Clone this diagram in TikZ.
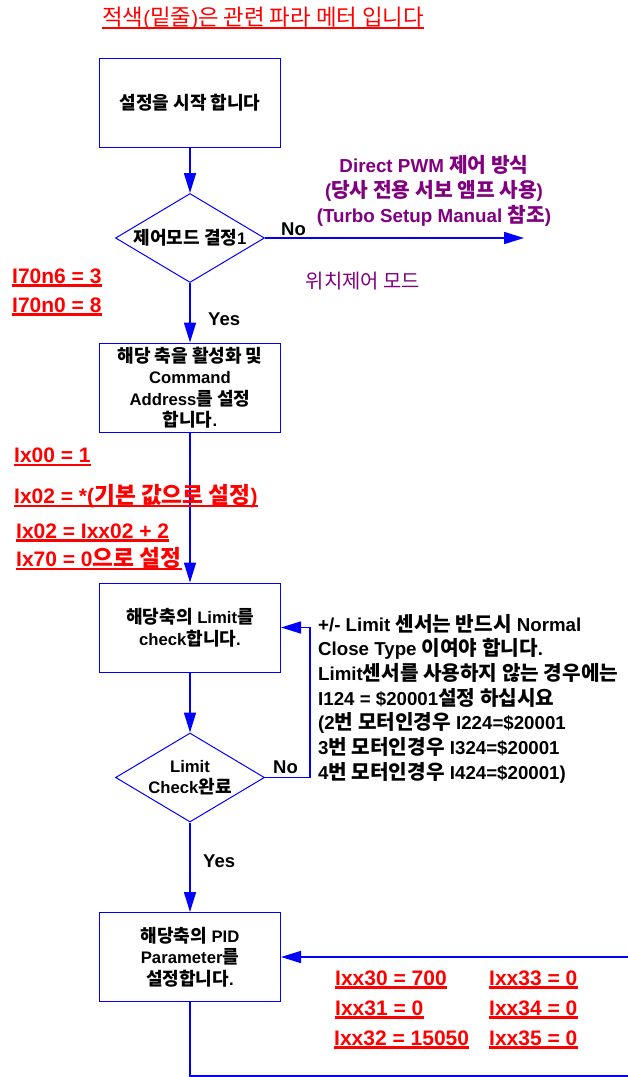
\documentclass[tikz,border=0pt]{standalone}
\usepackage{fontspec}
\setmainfont{Liberation Sans}
\newfontfamily\krfont{Noto Sans CJK KR}[Scale=1.08]
\newcommand\hg[1]{{\krfont #1}}
\usetikzlibrary{arrows.meta,shapes.geometric}

\definecolor{myblue}{RGB}{0,0,255}
\definecolor{myred}{RGB}{255,0,0}
\definecolor{mypurple}{RGB}{128,0,128}

\newcommand\boxfont{\fontsize{16.7}{21.5}\selectfont\bfseries}
\newcommand\ynfont{\fontsize{18.5}{22}\selectfont\bfseries}
\newcommand\lblfont{\fontsize{21}{25}\selectfont\bfseries}
\newcommand\notefont{\fontsize{18.7}{24.7}\selectfont\bfseries}
\newcommand\purpfont{\fontsize{18.8}{25}\selectfont\bfseries}
\newcommand\purpregfont{\fontsize{18.4}{24}\selectfont}
\newcommand\titlefont{\fontsize{20.7}{25}\selectfont}

\tikzset{
  box/.style={draw=myblue, line width=1pt, minimum width=181pt, minimum height=89pt,
    inner sep=2pt, align=center, font=\boxfont},
  dec/.style={draw=myblue, line width=1pt, shape=diamond, minimum width=149pt,
    minimum height=89pt, inner sep=0pt},
  dtext/.style={align=center, font=\boxfont, inner sep=0pt},
  arr/.style={draw=myblue, line width=1.6pt, -{Triangle[length=20pt,width=12pt]}},
  conn/.style={draw=myblue, line width=1.6pt},
  yn/.style={font=\ynfont, anchor=base west, inner sep=0pt},
  ul/.style={text=myred, font=\lblfont, anchor=base west, inner sep=0pt,
    append after command={([yshift=-2.5pt]\tikzlastnode.base west) edge[draw=myred, line width=2.5pt] ([yshift=-2.5pt]\tikzlastnode.base east)}},
  ultitle/.style={text=myred, font=\titlefont, anchor=base west, inner sep=0pt,
    append after command={([yshift=-3.3pt]\tikzlastnode.base west) edge[draw=myred, line width=2pt] ([yshift=-3.3pt]\tikzlastnode.base east)}},
  note/.style={font=\notefont, anchor=base west, inner sep=0pt},
  purp/.style={text=mypurple, font=\purpfont, anchor=base, inner sep=0pt},
  purpreg/.style={text=mypurple, font=\purpregfont, anchor=base, inner sep=0pt},
}

\begin{document}
\begin{tikzpicture}[x=1pt,y=-1pt]
\useasboundingbox (0,0) rectangle (628,1077);

% title
\node[ultitle] (title) at (102,25) {\hg{적색}(\hg{밑줄})\hg{은 관련 파라 메터 입니다}};

% flow nodes
\node[box] (b1) at (190,102.5) {\hg{설정을 시작 합니다}};
\node[dec] (d1) at (190,238) {};
\node[dtext] (d1t) at (190,238) {\hg{제어모드 결정}1};
\node[box] (b2) at (190,387.5) {\hg{해당 축을 활성화 및}\\Command\\Address\hg{를 설정}\\\hg{합니다}.};
\node[box] (b3) at (190,627.5) {\hg{해당축의} Limit\hg{를}\\check\hg{합니다}.};
\node[dec] (d2) at (190,777.5) {};
\node[dtext] (d2t) at (190,777.5) {Limit\\Check\hg{완료}};
\node[box] (b4) at (190,957) {\hg{해당축의} PID\\Parameter\hg{를}\\\hg{설정합니다}.};

% free ends
\coordinate (noend) at (524,238);
\coordinate (fb) at (310,777.5);
\coordinate (rin) at (628,957);
\coordinate (bl) at (190,1076);
\coordinate (br) at (628,1076);

% connectors
\draw[arr] (b1.south) -- (d1.north);
\draw[arr] (d1.east) -- (noend);
\draw[arr] (d1.south) -- (b2.north);
\draw[arr] (b2.south) -- (b3.north);
\draw[arr] (b3.south) -- (d2.north);
\draw[arr] (d2.east) -- (fb) |- (b3.east);
\draw[arr] (d2.south) -- (b4.north);
\draw[arr] (rin) -- (b4.east);
\draw[conn] (b4.south) -- (bl) -- (br);

% yes / no labels
\node[yn] (no1) at (281,235) {No};
\node[yn] (yes1) at (208,325.5) {Yes};
\node[yn] (no2) at (273,773) {No};
\node[yn] (yes2) at (203,867) {Yes};

% purple notes
\node[purp] (p1) at (434,172) {Direct PWM \hg{제어 방식}};
\node[purp] (p2) at (434,197) {(\hg{당사 전용 서보 앰프 사용})};
\node[purp] (p3) at (434,222) {(Turbo Setup Manual \hg{참조})};
\node[purpreg] (p4) at (363,288.5) {\hg{위치제어 모드}};

% red parameter labels
\node[ul] (l1) at (12,283) {I70n6 = 3};
\node[ul] (l2) at (12,312) {I70n0 = 8};
\node[ul] (l3) at (14,462.5) {Ix00 = 1};
\node[ul] (l4) at (14,503.5) {Ix02 = *(\hg{기본 값으로 설정})};
\node[ul] (l5) at (16,538) {Ix02 = Ixx02 + 2};
\node[ul] (l6) at (16,566.5) {Ix70 = 0\hg{으로 설정}};
\node[ul] (l7) at (335,985) {Ixx30 = 700};
\node[ul] (l8) at (335,1015) {Ixx31 = 0};
\node[ul] (l9) at (334,1045) {Ixx32 = 15050};
\node[ul] (l10) at (489,985) {Ixx33 = 0};
\node[ul] (l11) at (489,1015) {Ixx34 = 0};
\node[ul] (l12) at (489,1045) {Ixx35 = 0};

% limit note
\node[note] (n1) at (318,631) {+/- Limit \hg{센서는 반드시} Normal};
\node[note] (n2) at (318,655.7) {Close Type \hg{이여야 합니다}.};
\node[note] (n3) at (318,680.4) {Limit\hg{센서를 사용하지 않는 경우에는}};
\node[note] (n4) at (318,705.1) {I124 = \$20001\hg{설정 하십시요}};
\node[note] (n5) at (318,729.8) {(2\hg{번 모터인경우} I224=\$20001};
\node[note] (n6) at (318,754.5) {3\hg{번 모터인경우} I324=\$20001};
\node[note] (n7) at (318,779.2) {4\hg{번 모터인경우} I424=\$20001)};
\end{tikzpicture}
\end{document}
